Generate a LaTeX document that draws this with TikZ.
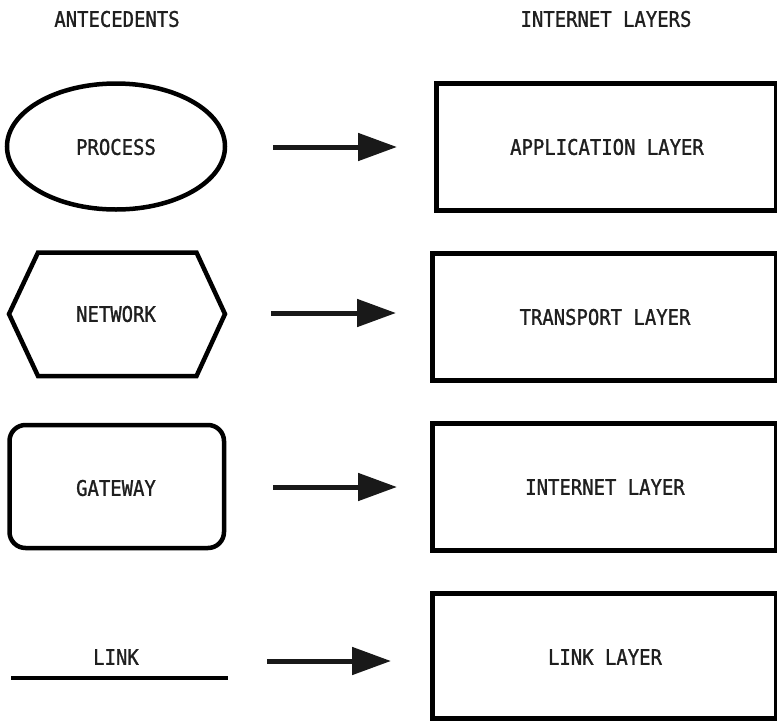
\documentclass[tikz,border=0pt]{standalone}
\usepackage{fontspec}
\newfontfamily\labelfont[FakeStretch=0.88, FakeBold=1.2]{DejaVu Sans Mono}
\usetikzlibrary{arrows.meta,shapes.geometric}

\tikzset{
  lbl/.style={font=\labelfont\fontsize{21.5}{23}\selectfont, text=black!88},
  outline/.style={draw=black, line width=4.5pt},
  layerbox/.style={draw=black, line width=5pt},
  flow/.style={line width=5pt, draw=black!90,
    -{Triangle[length=39pt,width=27pt]}},
}

\begin{document}
\begin{tikzpicture}[x=1pt,y=-1pt]
  \useasboundingbox (0,0) rectangle (777,721);

  % column headings
  \node[lbl] (hleft) at (117,19) {ANTECEDENTS};
  \node[lbl] (hright) at (606,19) {INTERNET LAYERS};

  % left column shapes
  \draw[outline] (116,146.5) ellipse [x radius=109, y radius=63];
  \node[lbl] (process) at (116,147) {PROCESS};

  \draw[outline, line join=miter]
    (9,314) -- (38,252.5) -- (196.5,252.5) -- (225,314) -- (196.5,376) -- (38,376) -- cycle;
  \node[lbl] (network) at (116,314) {NETWORK};

  \draw[outline, rounded corners=16pt] (9.5,425) rectangle (224,548);
  \node[lbl] (gateway) at (116,488) {GATEWAY};

  \node[lbl] (link) at (116,657) {LINK};
  \draw[line width=4.5pt, black] (11,678) -- (228,678);

  % right column boxes
  \draw[layerbox] (436.5,83) rectangle (776,210.5);
  \node[lbl] (app) at (607,147) {APPLICATION LAYER};

  \draw[layerbox] (432.5,253) rectangle (776,380);
  \node[lbl] (trans) at (605,317) {TRANSPORT LAYER};

  \draw[layerbox] (432.5,423) rectangle (776,550);
  \node[lbl] (inet) at (605,487) {INTERNET LAYER};

  \draw[layerbox] (432.5,593) rectangle (776,718);
  \node[lbl] (linkl) at (605,657) {LINK LAYER};

  % arrows between the columns
  \coordinate (a1s) at (273,147);  \coordinate (a1e) at (397,147);
  \coordinate (a2s) at (271,313);  \coordinate (a2e) at (396,313);
  \coordinate (a3s) at (273,487);  \coordinate (a3e) at (397,487);
  \coordinate (a4s) at (267,661);  \coordinate (a4e) at (391,661);
  \draw[flow] (a1s) -- (a1e);
  \draw[flow] (a2s) -- (a2e);
  \draw[flow] (a3s) -- (a3e);
  \draw[flow] (a4s) -- (a4e);
\end{tikzpicture}
\end{document}
